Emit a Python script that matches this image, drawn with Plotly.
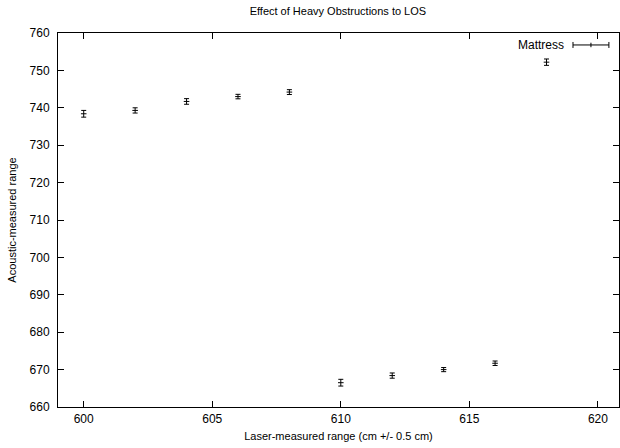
import plotly.graph_objects as go

laser_x = [600, 602, 604, 606, 608, 610, 612, 614, 616, 618]
acoustic_y = [738.4, 739.3, 741.7, 743.0, 744.2, 666.5, 668.4, 670.0, 671.7, 752.2]
y_err = [0.9, 0.7, 0.75, 0.6, 0.65, 0.9, 0.7, 0.55, 0.6, 0.85]
x_ticks = [600, 605, 610, 615, 620]
y_ticks = [660, 670, 680, 690, 700, 710, 720, 730, 740, 750, 760]

font = "Liberation Sans, Arial, sans-serif"

fig = go.Figure()
fig.add_trace(go.Scatter(
    x=laser_x, y=acoustic_y, mode="markers", name="Mattress",
    marker=dict(symbol="line-ew", size=4, color="black", line=dict(width=1, color="black")),
    error_y=dict(type="data", array=y_err, visible=True, color="black", thickness=1, width=2.5),
    showlegend=False,
))

# legend (gnuplot style key)
fig.add_annotation(xref="paper", yref="paper", x=0.905, y=0.968, text="Mattress",
                   showarrow=False, xanchor="right", yanchor="middle",
                   font=dict(family=font, size=12, color="black"))
lx0, lx1, ly = 0.918, 0.982, 0.968
fig.add_shape(type="line", xref="paper", yref="paper", x0=lx0, x1=lx1, y0=ly, y1=ly,
              line=dict(color="black", width=1))
for xx in (lx0, lx1):
    fig.add_shape(type="line", xref="paper", yref="paper", x0=xx, x1=xx, y0=ly - 0.008, y1=ly + 0.008,
                  line=dict(color="black", width=1))
fig.add_shape(type="line", xref="paper", yref="paper", x0=(lx0 + lx1) / 2, x1=(lx0 + lx1) / 2,
              y0=ly - 0.006, y1=ly + 0.006, line=dict(color="black", width=1))

axis_common = dict(
    showgrid=False, zeroline=False, showline=True, linecolor="black", linewidth=1,
    mirror="allticks", ticks="inside", ticklen=6, tickcolor="black", tickwidth=1,
    tickfont=dict(family=font, size=12, color="black"),
)

fig.update_layout(
    width=620, height=448,
    margin=dict(l=58, r=1, t=33, b=41),
    paper_bgcolor="white", plot_bgcolor="white",
    title=dict(text="Effect of Heavy Obstructions to LOS", x=0.545, xanchor="center",
               y=0.975, yanchor="middle", font=dict(family=font, size=11, color="black")),
    xaxis=dict(range=[599, 620.82], tickvals=x_ticks, ticklabelstandoff=1,
               title=dict(text="Laser-measured range (cm +/- 0.5 cm)", standoff=6,
                          font=dict(family=font, size=11, color="black")),
               **axis_common),
    yaxis=dict(range=[660, 760], tickvals=y_ticks, ticklabelstandoff=5,
               title=dict(text="Acoustic-measured range", standoff=10,
                          font=dict(family=font, size=11, color="black")),
               **axis_common),
)

fig.write_html("out.html")
